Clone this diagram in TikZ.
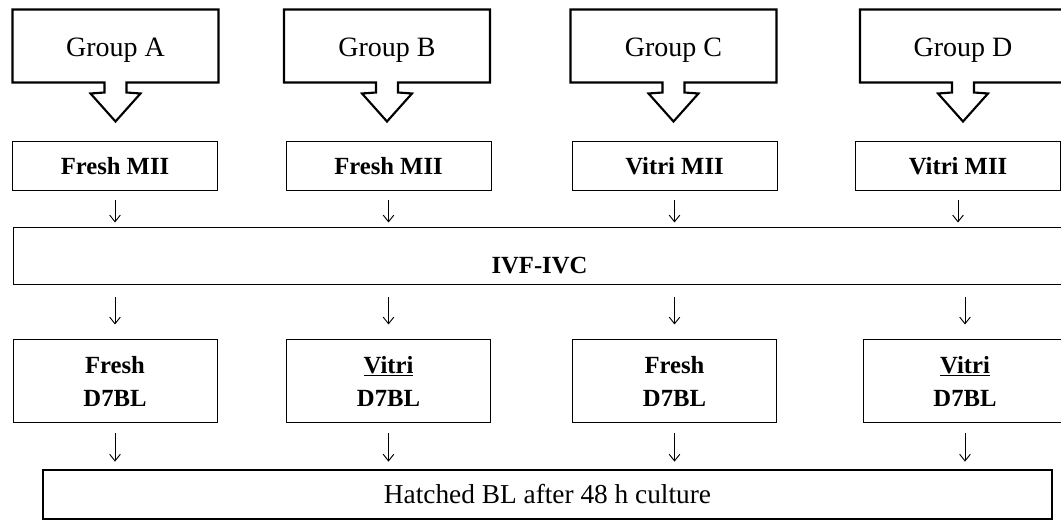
\documentclass[tikz,border=0pt]{standalone}
\usepackage{fontspec}
\setmainfont{Liberation Serif}
\usetikzlibrary{arrows.meta,calc}

\tikzset{every picture/.style={line width=0.75pt}}
\tikzset{
  grpbox/.style={draw=none, minimum width=153.75pt, minimum height=54pt, text height=16.5pt, text depth=0pt, font=\fontsize{21}{24}\selectfont},
  callout/.style={line width=1.6pt, line join=miter},
  oocyte/.style={draw, minimum width=153.75pt, minimum height=36.75pt, font=\fontsize{18.5}{22}\selectfont\bfseries},
  blast/.style={draw, minimum width=153pt, minimum height=62.25pt, align=center, font=\fontsize{18.5}{25}\selectfont\bfseries},
  dnarr/.style={-{Straight Barb[length=5pt,width=8pt]}, line width=0.7pt},
}

\begin{document}
\begin{tikzpicture}[x=0.75pt,y=0.75pt,yscale=-1,xscale=1]
	\useasboundingbox (0,0) rectangle (1061,520);

	% Group callouts
	\node[grpbox] (ga) at (115.5,46) {Group A};
	\node[grpbox] (gb) at (387,46) {Group B};
	\node[grpbox] (gc) at (673.5,46) {Group C};
	\node[grpbox] (gd) at (963,46) {Group D};
	%Shape: Callout [id:ga]
	\draw[callout] (ga.north west) -- (ga.north east) -- (ga.south east) -- ($(ga.south)+(11,0)$) -- ++(0,10) -- ++(14,1) -- ++(-25,28) -- ++(-25,-28) -- ++(14,-1) -- ++(0,-10) -- (ga.south west) -- cycle ;
	%Shape: Callout [id:gb]
	\draw[callout] (gb.north west) -- (gb.north east) -- (gb.south east) -- ($(gb.south)+(11,0)$) -- ++(0,10) -- ++(14,1) -- ++(-25,28) -- ++(-25,-28) -- ++(14,-1) -- ++(0,-10) -- (gb.south west) -- cycle ;
	%Shape: Callout [id:gc]
	\draw[callout] (gc.north west) -- (gc.north east) -- (gc.south east) -- ($(gc.south)+(11,0)$) -- ++(0,10) -- ++(14,1) -- ++(-25,28) -- ++(-25,-28) -- ++(14,-1) -- ++(0,-10) -- (gc.south west) -- cycle ;
	%Shape: Callout [id:gd]
	\draw[callout] (gd.north west) -- (gd.north east) -- (gd.south east) -- ($(gd.south)+(11,0)$) -- ++(0,10) -- ++(14,1) -- ++(-25,28) -- ++(-25,-28) -- ++(14,-1) -- ++(0,-10) -- (gd.south west) -- cycle ;

	% Oocytes
	\node[oocyte] (ma) at (115,166.5) {Fresh MII};
	\node[oocyte] (mb) at (388.5,166.5) {Fresh MII};
	\node[oocyte] (mc) at (674.5,166.5) {Vitri MII};
	\node[oocyte] (md) at (958,166.5) {Vitri MII};

	% IVF-IVC
	\node[draw, minimum width=789.75pt, minimum height=42.75pt, text height=26pt, text depth=0pt, font=\fontsize{18.5}{22}\selectfont\bfseries] (ivf) at (539.5,256.5) {IVF-IVC};

	% Blastocysts
	\node[blast] (ba) at (115,381.5) {Fresh\\D7BL};
	\node[blast] (bb) at (388.5,381.5) {\underline{Vitri}\\D7BL};
	\node[blast] (bc) at (674.5,381.5) {Fresh\\D7BL};
	\node[blast] (bd) at (965,381.5) {\underline{Vitri}\\D7BL};

	% Hatched
	\node[draw, line width=2pt, minimum width=756.75pt, minimum height=36.75pt, font=\fontsize{20.5}{22}\selectfont] (hbl) at (547.5,494.5) {Hatched BL after 48 h culture};

	%Straight Lines
	\draw[dnarr, shorten <=6.75pt, shorten >=3.75pt] (ma.south) -- (ma.south |- ivf.north) ;
	\draw[dnarr, shorten <=6.75pt, shorten >=3.75pt] (mb.south) -- (mb.south |- ivf.north) ;
	\draw[dnarr, shorten <=6.75pt, shorten >=3.75pt] (mc.south) -- (mc.south |- ivf.north) ;
	\draw[dnarr, shorten <=6.75pt, shorten >=3.75pt] (md.south) -- (md.south |- ivf.north) ;
	\draw[dnarr, shorten <=9pt, shorten >=11.25pt] (ivf.south -| ba.north) -- (ba.north) ;
	\draw[dnarr, shorten <=9pt, shorten >=11.25pt] (ivf.south -| bb.north) -- (bb.north) ;
	\draw[dnarr, shorten <=9pt, shorten >=11.25pt] (ivf.south -| bc.north) -- (bc.north) ;
	\draw[dnarr, shorten <=9pt, shorten >=11.25pt] (ivf.south -| bd.north) -- (bd.north) ;
	\draw[dnarr, shorten <=7.5pt, shorten >=5.25pt] (ba.south) -- (ba.south |- hbl.north) ;
	\draw[dnarr, shorten <=7.5pt, shorten >=5.25pt] (bb.south) -- (bb.south |- hbl.north) ;
	\draw[dnarr, shorten <=7.5pt, shorten >=5.25pt] (bc.south) -- (bc.south |- hbl.north) ;
	\draw[dnarr, shorten <=7.5pt, shorten >=5.25pt] (bd.south) -- (bd.south |- hbl.north) ;

\end{tikzpicture}
\end{document}
